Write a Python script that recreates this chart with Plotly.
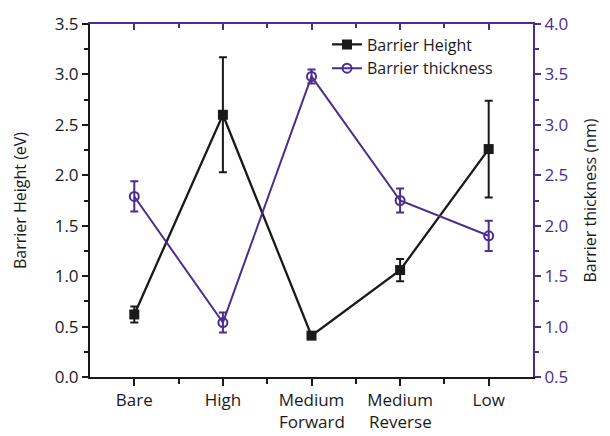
import plotly.graph_objects as go

categories = ["Bare", "High", "Medium Forward", "Medium Reverse", "Low"]
height_vals = [0.62, 2.60, 0.41, 1.06, 2.26]
height_err = [0.08, 0.57, 0.03, 0.11, 0.48]
thick_vals = [2.29, 1.04, 3.48, 2.25, 1.90]
thick_err = [0.15, 0.10, 0.07, 0.12, 0.15]

purple = "#4b2d8f"
black = "#1a1a1a"
font = "Open Sans"
xpos = list(range(len(categories)))
first_lines = [c.split(" ")[0] for c in categories]
second_lines = [" ".join(c.split(" ")[1:]) for c in categories]

fig = go.Figure()
fig.add_trace(go.Scatter(
    x=xpos, y=height_vals, name="Barrier Height", mode="lines+markers",
    line=dict(color=black, width=2.3),
    marker=dict(symbol="square", size=10, color=black),
    error_y=dict(type="data", array=height_err, color=black, thickness=2, width=4),
    xaxis="x", yaxis="y",
))
fig.add_trace(go.Scatter(
    x=xpos, y=thick_vals, name="Barrier thickness", mode="lines+markers",
    line=dict(color=purple, width=2),
    marker=dict(symbol="circle-open", size=9, color=purple, line=dict(width=2)),
    error_y=dict(type="data", array=thick_err, color=purple, thickness=2, width=4),
    xaxis="x2", yaxis="y2",
))

for i, t in enumerate(second_lines):
    if t:
        fig.add_annotation(x=xpos[i], y=-0.125, xref="x", yref="paper", text=t,
                           showarrow=False, yanchor="middle", xanchor="center",
                           font=dict(size=17, color=black, family=font))

fig.update_layout(
    width=610, height=436,
    margin=dict(l=90, r=77, t=20, b=59),
    paper_bgcolor="white", plot_bgcolor="white",
    font=dict(family=font, size=16, color=black),
    showlegend=True,
    legend=dict(x=0.535, y=0.99, xanchor="left", yanchor="top",
                bgcolor="rgba(0,0,0,0)", font=dict(size=16, color=black),
                tracegroupgap=0, itemwidth=30),
    xaxis=dict(
        range=[-0.5, 4.5], tickmode="array", tickvals=xpos, ticktext=first_lines,
        showline=True, linecolor=black, linewidth=2, ticks="outside",
        ticklen=7, tickwidth=2, tickcolor=black, showgrid=False, zeroline=False,
        minor=dict(tickmode="array", tickvals=[0.5, 1.5, 2.5, 3.5], ticks="outside",
                   ticklen=5, tickwidth=2, tickcolor=black),
        tickfont=dict(size=17, color=black),
    ),
    xaxis2=dict(
        matches="x", overlaying="x", side="top", anchor="y2",
        range=[-0.5, 4.5], tickmode="array", tickvals=xpos, showticklabels=False,
        showline=True, linecolor=purple, linewidth=2, ticks="inside",
        ticklen=6, tickwidth=2, tickcolor=purple, showgrid=False, zeroline=False,
        minor=dict(tickmode="array", tickvals=[0.5, 1.5, 2.5, 3.5], ticks="inside",
                   ticklen=4, tickwidth=2, tickcolor=purple),
    ),
    yaxis=dict(
        range=[0, 3.5], tickmode="linear", tick0=0, dtick=0.5, tickformat=".1f",
        showline=True, linecolor=black, linewidth=2, ticks="outside",
        ticklen=6, tickwidth=2, tickcolor=black, showgrid=False, zeroline=False,
        minor=dict(tickmode="linear", tick0=0.25, dtick=0.5, ticks="outside",
                   ticklen=4, tickwidth=2, tickcolor=black),
        title=dict(text="Barrier Height (eV)", font=dict(size=16, color=black), standoff=24),
        tickfont=dict(size=17, color=black),
    ),
    yaxis2=dict(
        overlaying="y", side="right", anchor="x2",
        range=[0.5, 4.0], tickmode="linear", tick0=0.5, dtick=0.5, tickformat=".1f",
        showline=True, linecolor=purple, linewidth=2, ticks="outside",
        ticklen=6, tickwidth=2, tickcolor=purple, showgrid=False, zeroline=False,
        minor=dict(tickmode="linear", tick0=0.75, dtick=0.5, ticks="outside",
                   ticklen=4, tickwidth=2, tickcolor=purple),
        title=dict(text="Barrier thickness (nm)", font=dict(size=16, color=black), standoff=17),
        tickfont=dict(size=17, color=purple),
    ),
)

fig.write_html("out.html")
